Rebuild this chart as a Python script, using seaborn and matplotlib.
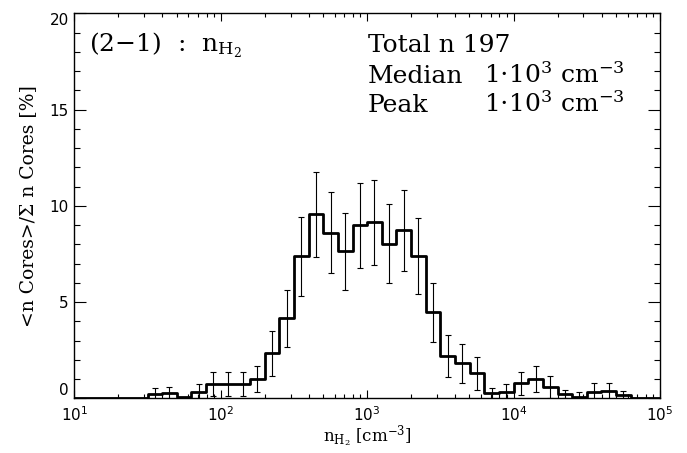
import numpy as np
import pandas as pd
import matplotlib
matplotlib.use("Agg")
import matplotlib.pyplot as plt
from matplotlib.ticker import MultipleLocator
import seaborn as sns

# ---- data ----
log_edges = [1.0, 1.1, 1.2, 1.3, 1.4, 1.5, 1.6, 1.7, 1.8, 1.9,
             2.0, 2.1, 2.2, 2.3, 2.4, 2.5, 2.6, 2.7, 2.8, 2.9,
             3.0, 3.1, 3.2, 3.3, 3.4, 3.5, 3.6, 3.7, 3.8, 3.9,
             4.0, 4.1, 4.2, 4.3, 4.4, 4.5, 4.6, 4.7, 4.8, 4.9, 5.0]
pct = [0.0, 0.0, 0.0, 0.0, 0.0, 0.20, 0.25, 0.05, 0.35, 0.73,
       0.75, 0.73, 1.00, 2.33, 4.15, 7.38, 9.56, 8.61, 7.64, 8.99,
       9.15, 8.04, 8.73, 7.40, 4.46, 2.21, 1.81, 1.30, 0.26, 0.31,
       0.78, 1.00, 0.60, 0.21, 0.08, 0.34, 0.38, 0.17, 0.0, 0.0]
err = [np.nan, np.nan, np.nan, np.nan, np.nan, 0.35, 0.35, np.nan, 0.38, 0.62,
       0.62, 0.62, 0.69, 1.15, 1.50, 2.04, 2.20, 2.10, 2.00, 2.20,
       2.20, 2.05, 2.10, 1.98, 1.55, 1.10, 1.00, 0.85, 0.30, 0.42,
       0.60, 0.69, 0.56, 0.22, 0.23, 0.44, 0.43, 0.22, np.nan, np.nan]
y_ticks = [0, 5, 10, 15, 20]
title_left = "(2\u22121)  :  n$_{\\mathrm{H}_2}$"
total_txt = "Total n 197"
median_txt = "1$\\cdot$10$^3$ cm$^{-3}$"
peak_txt = "1$\\cdot$10$^3$ cm$^{-3}$"

edges = np.array(log_edges)
centers = 10 ** ((edges[:-1] + edges[1:]) / 2)
df = pd.DataFrame({"n": centers, "pct": pct, "err": err})

sns.set_style("ticks")
plt.rcParams["font.family"] = ["DejaVu Sans"]
plt.rcParams["mathtext.fontset"] = "dejavuserif"
plt.rcParams["axes.linewidth"] = 1.0
plt.rcParams["text.color"] = "black"
plt.rcParams["axes.labelcolor"] = "black"
plt.rcParams["xtick.color"] = "black"
plt.rcParams["ytick.color"] = "black"
plt.rcParams["axes.edgecolor"] = "black"

fig = plt.figure(figsize=(6.87, 4.53), dpi=100)
ax = fig.add_axes([74.3 / 687, 1 - 398.3 / 453, (660 - 74.3) / 687, 385 / 453])

sns.histplot(data=df, x="n", weights="pct", bins=log_edges, log_scale=True,
             element="step", fill=False, color="black", linewidth=2.0, ax=ax)

m = df["err"].notna()
ax.errorbar(df.loc[m, "n"], df.loc[m, "pct"], yerr=df.loc[m, "err"], fmt="none",
            ecolor="black", elinewidth=0.8, capsize=2.5, capthick=0.8)

ax.set_yticks(y_ticks)
ax.set_yticklabels([str(v) for v in y_ticks])
ax.yaxis.set_minor_locator(MultipleLocator(1))
ax.set_xlim(10, 1e5)
ax.set_ylim(0, 20)
ax.tick_params(which="both", direction="in", top=True, right=True, colors="black",
               labelsize=11)
ax.tick_params(axis="x", which="major", length=5.5, width=0.8, pad=5)
ax.tick_params(axis="x", which="minor", length=2.8, width=0.8)
ax.tick_params(axis="y", which="major", length=8.4, width=0.8, pad=4)
ax.tick_params(axis="y", which="minor", length=4.2, width=0.8)

ax.set_xlabel("n$_{\\mathrm{H}_2}$ [cm$^{-3}$]", family="DejaVu Serif", fontsize=12, labelpad=0)
ax.set_ylabel("<n Cores>/\u03a3 n Cores [%]", family="DejaVu Serif", fontsize=13.5, labelpad=9)

tk = dict(transform=ax.transAxes, family="DejaVu Serif", fontsize=18, va="baseline", ha="left")
ax.text(0.025, 0.900, title_left, **tk)
ax.text(0.5015, 0.900, total_txt, **tk)
ax.text(0.5015, 0.818, "Median", **tk)
ax.text(0.700, 0.818, median_txt, **tk)
ax.text(0.5015, 0.744, "Peak", **tk)
ax.text(0.700, 0.744, peak_txt, **tk)

for lab in ax.get_yticklabels():
    if lab.get_text() == "0":
        lab.set_va("bottom")
    elif lab.get_text() == "20":
        lab.set_va("top")

fig.savefig("out.png", dpi=100)
